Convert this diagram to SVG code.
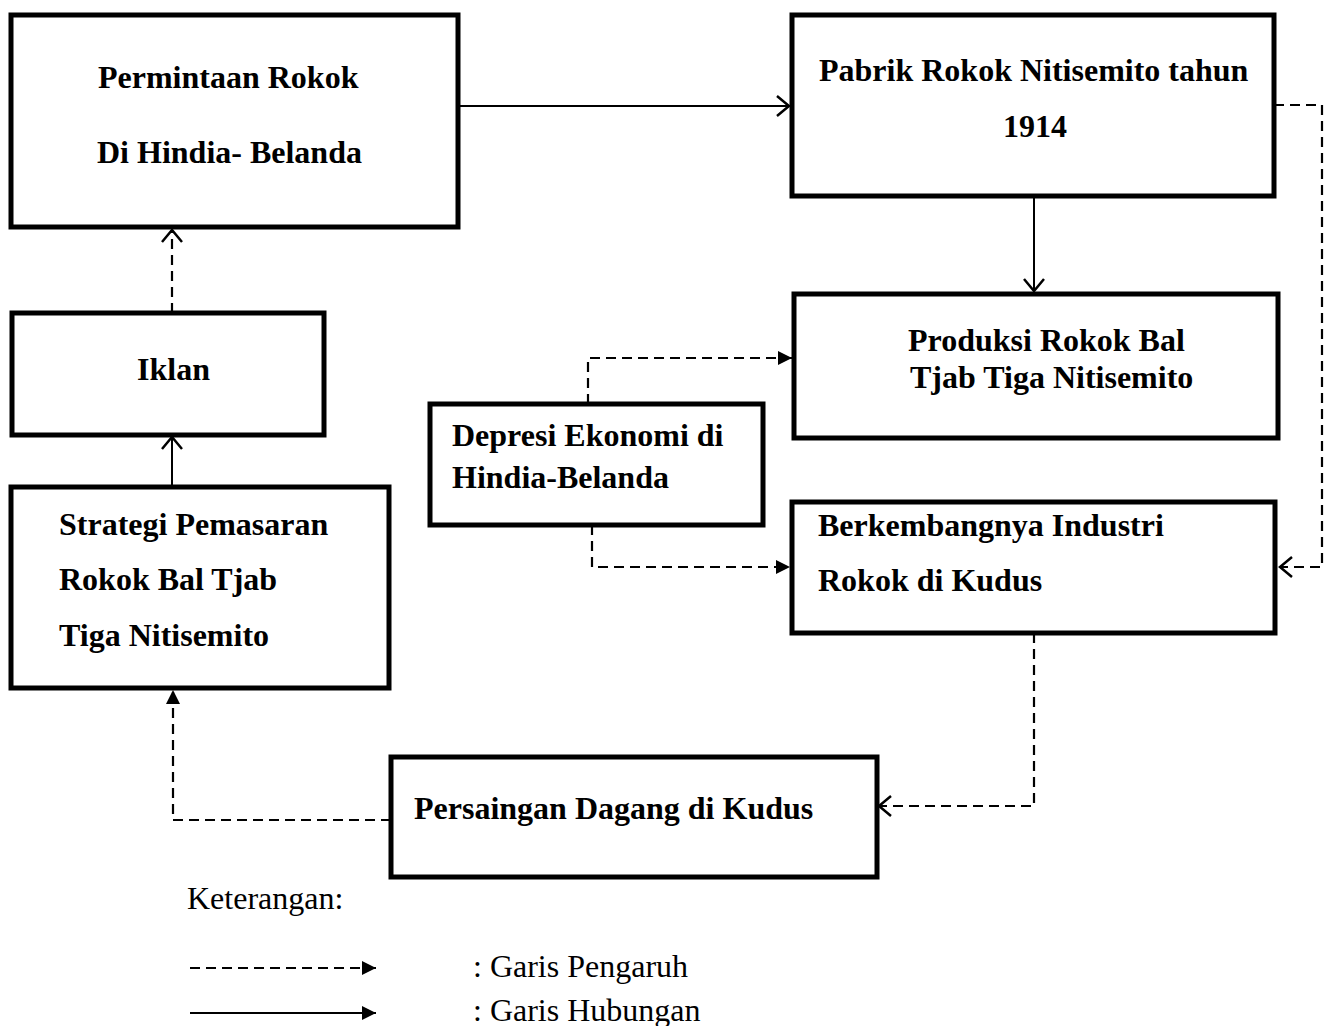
<svg xmlns="http://www.w3.org/2000/svg" width="1329" height="1026" viewBox="0 0 1329 1026">
<style>
.box{fill:#fff;stroke:#000;stroke-width:5}
.t{font-family:"Liberation Serif","Times New Roman",serif;font-weight:bold;font-size:32px;fill:#000}
.n{font-family:"Liberation Serif","Times New Roman",serif;font-size:32px;fill:#000}
.solid{fill:none;stroke:#000;stroke-width:2}
.dash{fill:none;stroke:#000;stroke-width:2.2;stroke-dasharray:10 6}
</style>
<defs>
<marker id="open" markerUnits="userSpaceOnUse" markerWidth="16" markerHeight="24" refX="14" refY="12" orient="auto">
<path d="M2,2 L14,12 L2,22" fill="none" stroke="#000" stroke-width="2.5"/>
</marker>
<marker id="fill" markerUnits="userSpaceOnUse" markerWidth="16" markerHeight="16" refX="14" refY="7" orient="auto">
<path d="M0,0 L14,7 L0,14 Z" fill="#000"/>
</marker>
</defs>
<rect width="1329" height="1026" fill="#fff"/>
<g id="connectors">
<line class="solid" x1="458" y1="106" x2="789" y2="106" marker-end="url(#open)"/>
<line class="solid" x1="1034" y1="196" x2="1034" y2="291" marker-end="url(#open)"/>
<line class="dash" x1="172" y1="313" x2="172" y2="230" marker-end="url(#open)"/>
<line class="solid" x1="172" y1="487" x2="172" y2="437" marker-end="url(#open)"/>
<polyline class="dash" points="1274,105 1322,105 1322,567 1280,567" marker-end="url(#open)"/>
<polyline class="dash" points="588,404 588,358 792,358" marker-end="url(#fill)"/>
<polyline class="dash" points="592,525 592,567 790,567" marker-end="url(#fill)"/>
<polyline class="dash" points="1034,633 1034,806 879,806" marker-end="url(#open)"/>
<polyline class="dash" points="391,820 173,820 173,690" marker-end="url(#fill)"/>
</g>
<g id="n1"><rect class="box" x="11" y="15" width="447" height="212"/>
<text class="t" x="98" y="88">Permintaan Rokok</text>
<text class="t" x="97" y="163">Di Hindia- Belanda</text></g>
<g id="n2"><rect class="box" x="792" y="15" width="482" height="181"/>
<text class="t" x="819" y="81">Pabrik Rokok Nitisemito tahun</text>
<text class="t" x="1003" y="137">1914</text></g>
<g id="n3"><rect class="box" x="794" y="294" width="484" height="144"/>
<text class="t" x="908" y="351">Produksi Rokok Bal</text>
<text class="t" x="910" y="388">Tjab Tiga Nitisemito</text></g>
<g id="n4"><rect class="box" x="12" y="313" width="312" height="122"/>
<text class="t" x="137" y="380">Iklan</text></g>
<g id="n5"><rect class="box" x="430" y="404" width="333" height="121"/>
<text class="t" x="452" y="446">Depresi Ekonomi di</text>
<text class="t" x="452" y="488">Hindia-Belanda</text></g>
<g id="n6"><rect class="box" x="792" y="502" width="483" height="131"/>
<text class="t" x="818" y="536">Berkembangnya Industri</text>
<text class="t" x="818" y="591">Rokok di Kudus</text></g>
<g id="n7"><rect class="box" x="11" y="487" width="378" height="201"/>
<text class="t" x="59" y="535">Strategi Pemasaran</text>
<text class="t" x="59" y="590">Rokok Bal Tjab</text>
<text class="t" x="59" y="646">Tiga Nitisemito</text></g>
<g id="n8"><rect class="box" x="391" y="757" width="486" height="120"/>
<text class="t" x="414" y="819">Persaingan Dagang di Kudus</text></g>
<g id="legend">
<text class="n" x="187" y="909">Keterangan:</text>
<line class="dash" x1="190" y1="968" x2="376" y2="968" stroke-dasharray="9 6" marker-end="url(#fill)"/>
<line class="solid" x1="190" y1="1013" x2="376" y2="1013" marker-end="url(#fill)"/>
<text class="n" x="473" y="977">: Garis Pengaruh</text>
<text class="n" x="473" y="1021">: Garis Hubungan</text>
</g>
</svg>
